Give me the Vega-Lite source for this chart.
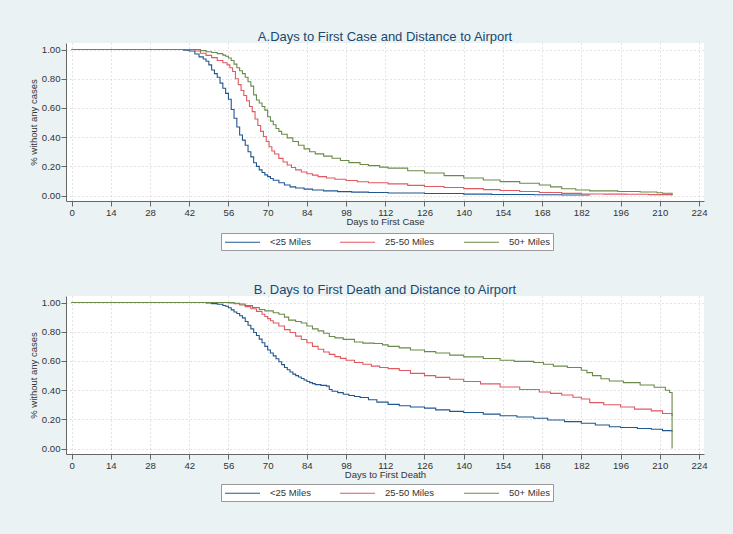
{
  "$schema": "https://vega.github.io/schema/vega-lite/v6.json",
  "background": "#eaf2f3",
  "padding": {"left": 28, "top": 30, "right": 27, "bottom": 32},
  "datasets": {
    "cases": [
      {"distance": "<25 Miles", "day": 0, "share": 1}, {"distance": "<25 Miles", "day": 38, "share": 1}, {"distance": "<25 Miles", "day": 40, "share": 0.995},
      {"distance": "<25 Miles", "day": 42, "share": 0.99}, {"distance": "<25 Miles", "day": 44, "share": 0.97}, {"distance": "<25 Miles", "day": 45.5, "share": 0.95},
      {"distance": "<25 Miles", "day": 47, "share": 0.935}, {"distance": "<25 Miles", "day": 48, "share": 0.92}, {"distance": "<25 Miles", "day": 49, "share": 0.895},
      {"distance": "<25 Miles", "day": 50, "share": 0.86}, {"distance": "<25 Miles", "day": 51, "share": 0.835}, {"distance": "<25 Miles", "day": 52, "share": 0.81},
      {"distance": "<25 Miles", "day": 53, "share": 0.77}, {"distance": "<25 Miles", "day": 54, "share": 0.735}, {"distance": "<25 Miles", "day": 55, "share": 0.7},
      {"distance": "<25 Miles", "day": 56, "share": 0.66}, {"distance": "<25 Miles", "day": 57, "share": 0.59}, {"distance": "<25 Miles", "day": 58, "share": 0.53},
      {"distance": "<25 Miles", "day": 59, "share": 0.47}, {"distance": "<25 Miles", "day": 60, "share": 0.415}, {"distance": "<25 Miles", "day": 61, "share": 0.38},
      {"distance": "<25 Miles", "day": 62, "share": 0.345}, {"distance": "<25 Miles", "day": 63, "share": 0.3}, {"distance": "<25 Miles", "day": 64, "share": 0.265},
      {"distance": "<25 Miles", "day": 65, "share": 0.225}, {"distance": "<25 Miles", "day": 66, "share": 0.2}, {"distance": "<25 Miles", "day": 67, "share": 0.176},
      {"distance": "<25 Miles", "day": 68, "share": 0.158}, {"distance": "<25 Miles", "day": 69, "share": 0.142}, {"distance": "<25 Miles", "day": 70, "share": 0.13},
      {"distance": "<25 Miles", "day": 71, "share": 0.117}, {"distance": "<25 Miles", "day": 72, "share": 0.105}, {"distance": "<25 Miles", "day": 74, "share": 0.088},
      {"distance": "<25 Miles", "day": 76, "share": 0.073}, {"distance": "<25 Miles", "day": 78, "share": 0.06}, {"distance": "<25 Miles", "day": 80, "share": 0.052},
      {"distance": "<25 Miles", "day": 83, "share": 0.044}, {"distance": "<25 Miles", "day": 86, "share": 0.038}, {"distance": "<25 Miles", "day": 90, "share": 0.032},
      {"distance": "<25 Miles", "day": 95, "share": 0.027}, {"distance": "<25 Miles", "day": 100, "share": 0.024}, {"distance": "<25 Miles", "day": 106, "share": 0.021},
      {"distance": "<25 Miles", "day": 113, "share": 0.018}, {"distance": "<25 Miles", "day": 126, "share": 0.014}, {"distance": "<25 Miles", "day": 140, "share": 0.01},
      {"distance": "<25 Miles", "day": 150, "share": 0.008}, {"distance": "<25 Miles", "day": 165, "share": 0.006}, {"distance": "<25 Miles", "day": 175, "share": 0.004},
      {"distance": "<25 Miles", "day": 185, "share": 0.002},

      {"distance": "25-50 Miles", "day": 0, "share": 1}, {"distance": "25-50 Miles", "day": 42, "share": 1}, {"distance": "25-50 Miles", "day": 44, "share": 0.99},
      {"distance": "25-50 Miles", "day": 46, "share": 0.975}, {"distance": "25-50 Miles", "day": 48, "share": 0.96}, {"distance": "25-50 Miles", "day": 50, "share": 0.945},
      {"distance": "25-50 Miles", "day": 52, "share": 0.925}, {"distance": "25-50 Miles", "day": 54, "share": 0.91}, {"distance": "25-50 Miles", "day": 55.5, "share": 0.895},
      {"distance": "25-50 Miles", "day": 56.5, "share": 0.875}, {"distance": "25-50 Miles", "day": 57.5, "share": 0.85}, {"distance": "25-50 Miles", "day": 58.5, "share": 0.8},
      {"distance": "25-50 Miles", "day": 59.5, "share": 0.76}, {"distance": "25-50 Miles", "day": 60.5, "share": 0.72}, {"distance": "25-50 Miles", "day": 61.5, "share": 0.685},
      {"distance": "25-50 Miles", "day": 62.5, "share": 0.65}, {"distance": "25-50 Miles", "day": 63.5, "share": 0.61}, {"distance": "25-50 Miles", "day": 64.5, "share": 0.575},
      {"distance": "25-50 Miles", "day": 65.5, "share": 0.525}, {"distance": "25-50 Miles", "day": 66.5, "share": 0.48}, {"distance": "25-50 Miles", "day": 67.5, "share": 0.44},
      {"distance": "25-50 Miles", "day": 68.5, "share": 0.405}, {"distance": "25-50 Miles", "day": 69.5, "share": 0.37}, {"distance": "25-50 Miles", "day": 70.5, "share": 0.335},
      {"distance": "25-50 Miles", "day": 71.5, "share": 0.305}, {"distance": "25-50 Miles", "day": 72.5, "share": 0.285}, {"distance": "25-50 Miles", "day": 74, "share": 0.255},
      {"distance": "25-50 Miles", "day": 75.5, "share": 0.23}, {"distance": "25-50 Miles", "day": 77, "share": 0.21}, {"distance": "25-50 Miles", "day": 78.5, "share": 0.192},
      {"distance": "25-50 Miles", "day": 80, "share": 0.176}, {"distance": "25-50 Miles", "day": 82, "share": 0.162}, {"distance": "25-50 Miles", "day": 84, "share": 0.15},
      {"distance": "25-50 Miles", "day": 86, "share": 0.14}, {"distance": "25-50 Miles", "day": 88, "share": 0.13}, {"distance": "25-50 Miles", "day": 91, "share": 0.12},
      {"distance": "25-50 Miles", "day": 94, "share": 0.112}, {"distance": "25-50 Miles", "day": 98, "share": 0.103}, {"distance": "25-50 Miles", "day": 102, "share": 0.095},
      {"distance": "25-50 Miles", "day": 106, "share": 0.088}, {"distance": "25-50 Miles", "day": 113, "share": 0.08}, {"distance": "25-50 Miles", "day": 120, "share": 0.07},
      {"distance": "25-50 Miles", "day": 126, "share": 0.062}, {"distance": "25-50 Miles", "day": 133, "share": 0.055}, {"distance": "25-50 Miles", "day": 140, "share": 0.048},
      {"distance": "25-50 Miles", "day": 147, "share": 0.041}, {"distance": "25-50 Miles", "day": 153, "share": 0.035}, {"distance": "25-50 Miles", "day": 160, "share": 0.028},
      {"distance": "25-50 Miles", "day": 167, "share": 0.021}, {"distance": "25-50 Miles", "day": 175, "share": 0.015}, {"distance": "25-50 Miles", "day": 182, "share": 0.011},
      {"distance": "25-50 Miles", "day": 190, "share": 0.01}, {"distance": "25-50 Miles", "day": 198, "share": 0.009}, {"distance": "25-50 Miles", "day": 206, "share": 0.007},
      {"distance": "25-50 Miles", "day": 214.4, "share": 0.005},

      {"distance": "50+ Miles", "day": 0, "share": 1}, {"distance": "50+ Miles", "day": 44, "share": 1}, {"distance": "50+ Miles", "day": 46, "share": 0.993},
      {"distance": "50+ Miles", "day": 48, "share": 0.985}, {"distance": "50+ Miles", "day": 50, "share": 0.98}, {"distance": "50+ Miles", "day": 52, "share": 0.972},
      {"distance": "50+ Miles", "day": 54, "share": 0.962}, {"distance": "50+ Miles", "day": 55, "share": 0.954}, {"distance": "50+ Miles", "day": 56, "share": 0.942},
      {"distance": "50+ Miles", "day": 57, "share": 0.925}, {"distance": "50+ Miles", "day": 58, "share": 0.9}, {"distance": "50+ Miles", "day": 59, "share": 0.875},
      {"distance": "50+ Miles", "day": 60, "share": 0.855}, {"distance": "50+ Miles", "day": 61, "share": 0.835}, {"distance": "50+ Miles", "day": 62, "share": 0.81},
      {"distance": "50+ Miles", "day": 63, "share": 0.78}, {"distance": "50+ Miles", "day": 64, "share": 0.75}, {"distance": "50+ Miles", "day": 65, "share": 0.69},
      {"distance": "50+ Miles", "day": 66, "share": 0.655}, {"distance": "50+ Miles", "day": 67, "share": 0.634}, {"distance": "50+ Miles", "day": 68, "share": 0.61},
      {"distance": "50+ Miles", "day": 69, "share": 0.585}, {"distance": "50+ Miles", "day": 70, "share": 0.54}, {"distance": "50+ Miles", "day": 71, "share": 0.51},
      {"distance": "50+ Miles", "day": 72, "share": 0.485}, {"distance": "50+ Miles", "day": 73, "share": 0.46}, {"distance": "50+ Miles", "day": 74, "share": 0.44},
      {"distance": "50+ Miles", "day": 75, "share": 0.42}, {"distance": "50+ Miles", "day": 77, "share": 0.395}, {"distance": "50+ Miles", "day": 79, "share": 0.37},
      {"distance": "50+ Miles", "day": 81, "share": 0.345}, {"distance": "50+ Miles", "day": 83, "share": 0.32}, {"distance": "50+ Miles", "day": 85, "share": 0.3},
      {"distance": "50+ Miles", "day": 87, "share": 0.286}, {"distance": "50+ Miles", "day": 90, "share": 0.27}, {"distance": "50+ Miles", "day": 93, "share": 0.256},
      {"distance": "50+ Miles", "day": 96, "share": 0.24}, {"distance": "50+ Miles", "day": 99, "share": 0.226}, {"distance": "50+ Miles", "day": 103, "share": 0.213},
      {"distance": "50+ Miles", "day": 106, "share": 0.205}, {"distance": "50+ Miles", "day": 110, "share": 0.195}, {"distance": "50+ Miles", "day": 113, "share": 0.188},
      {"distance": "50+ Miles", "day": 120, "share": 0.17}, {"distance": "50+ Miles", "day": 126, "share": 0.155}, {"distance": "50+ Miles", "day": 133, "share": 0.137},
      {"distance": "50+ Miles", "day": 140, "share": 0.12}, {"distance": "50+ Miles", "day": 147, "share": 0.107}, {"distance": "50+ Miles", "day": 153, "share": 0.096},
      {"distance": "50+ Miles", "day": 160, "share": 0.085}, {"distance": "50+ Miles", "day": 167, "share": 0.073}, {"distance": "50+ Miles", "day": 171, "share": 0.06},
      {"distance": "50+ Miles", "day": 175, "share": 0.047}, {"distance": "50+ Miles", "day": 180, "share": 0.038}, {"distance": "50+ Miles", "day": 185, "share": 0.032},
      {"distance": "50+ Miles", "day": 195, "share": 0.028}, {"distance": "50+ Miles", "day": 203, "share": 0.025}, {"distance": "50+ Miles", "day": 209, "share": 0.02},
      {"distance": "50+ Miles", "day": 211, "share": 0.016}, {"distance": "50+ Miles", "day": 214.4, "share": 0}
    ],
    "deaths": [
      {"distance": "<25 Miles", "day": 0, "share": 1}, {"distance": "<25 Miles", "day": 46, "share": 1}, {"distance": "<25 Miles", "day": 48, "share": 0.997},
      {"distance": "<25 Miles", "day": 50, "share": 0.993}, {"distance": "<25 Miles", "day": 52, "share": 0.988}, {"distance": "<25 Miles", "day": 54, "share": 0.98},
      {"distance": "<25 Miles", "day": 55, "share": 0.975}, {"distance": "<25 Miles", "day": 56, "share": 0.965}, {"distance": "<25 Miles", "day": 57, "share": 0.95},
      {"distance": "<25 Miles", "day": 58, "share": 0.935}, {"distance": "<25 Miles", "day": 59, "share": 0.925}, {"distance": "<25 Miles", "day": 60, "share": 0.91},
      {"distance": "<25 Miles", "day": 61, "share": 0.895}, {"distance": "<25 Miles", "day": 62, "share": 0.87}, {"distance": "<25 Miles", "day": 63, "share": 0.845},
      {"distance": "<25 Miles", "day": 64, "share": 0.82}, {"distance": "<25 Miles", "day": 65, "share": 0.795}, {"distance": "<25 Miles", "day": 66, "share": 0.775},
      {"distance": "<25 Miles", "day": 67, "share": 0.75}, {"distance": "<25 Miles", "day": 68, "share": 0.725}, {"distance": "<25 Miles", "day": 69, "share": 0.7},
      {"distance": "<25 Miles", "day": 70, "share": 0.675}, {"distance": "<25 Miles", "day": 71, "share": 0.655}, {"distance": "<25 Miles", "day": 72, "share": 0.635},
      {"distance": "<25 Miles", "day": 73, "share": 0.615}, {"distance": "<25 Miles", "day": 74, "share": 0.595}, {"distance": "<25 Miles", "day": 75, "share": 0.575},
      {"distance": "<25 Miles", "day": 76, "share": 0.555}, {"distance": "<25 Miles", "day": 77, "share": 0.54}, {"distance": "<25 Miles", "day": 78, "share": 0.525},
      {"distance": "<25 Miles", "day": 79, "share": 0.51}, {"distance": "<25 Miles", "day": 80, "share": 0.5}, {"distance": "<25 Miles", "day": 81, "share": 0.49},
      {"distance": "<25 Miles", "day": 82, "share": 0.48}, {"distance": "<25 Miles", "day": 83, "share": 0.47}, {"distance": "<25 Miles", "day": 84, "share": 0.46},
      {"distance": "<25 Miles", "day": 85, "share": 0.452}, {"distance": "<25 Miles", "day": 86, "share": 0.445}, {"distance": "<25 Miles", "day": 87, "share": 0.438},
      {"distance": "<25 Miles", "day": 89, "share": 0.433}, {"distance": "<25 Miles", "day": 91, "share": 0.428}, {"distance": "<25 Miles", "day": 92, "share": 0.405},
      {"distance": "<25 Miles", "day": 93, "share": 0.393}, {"distance": "<25 Miles", "day": 95, "share": 0.383}, {"distance": "<25 Miles", "day": 97, "share": 0.372},
      {"distance": "<25 Miles", "day": 99, "share": 0.364}, {"distance": "<25 Miles", "day": 101, "share": 0.357}, {"distance": "<25 Miles", "day": 103, "share": 0.35},
      {"distance": "<25 Miles", "day": 106, "share": 0.335}, {"distance": "<25 Miles", "day": 109, "share": 0.318}, {"distance": "<25 Miles", "day": 113, "share": 0.303},
      {"distance": "<25 Miles", "day": 117, "share": 0.293}, {"distance": "<25 Miles", "day": 121, "share": 0.285}, {"distance": "<25 Miles", "day": 126, "share": 0.277},
      {"distance": "<25 Miles", "day": 130, "share": 0.265}, {"distance": "<25 Miles", "day": 135, "share": 0.255}, {"distance": "<25 Miles", "day": 140, "share": 0.247},
      {"distance": "<25 Miles", "day": 147, "share": 0.236}, {"distance": "<25 Miles", "day": 153, "share": 0.225}, {"distance": "<25 Miles", "day": 159, "share": 0.216},
      {"distance": "<25 Miles", "day": 165, "share": 0.208}, {"distance": "<25 Miles", "day": 170, "share": 0.196}, {"distance": "<25 Miles", "day": 176, "share": 0.185},
      {"distance": "<25 Miles", "day": 182, "share": 0.174}, {"distance": "<25 Miles", "day": 187, "share": 0.162}, {"distance": "<25 Miles", "day": 192, "share": 0.15},
      {"distance": "<25 Miles", "day": 196, "share": 0.144}, {"distance": "<25 Miles", "day": 202, "share": 0.138}, {"distance": "<25 Miles", "day": 207, "share": 0.132},
      {"distance": "<25 Miles", "day": 211, "share": 0.123}, {"distance": "<25 Miles", "day": 214.4, "share": 0.116},

      {"distance": "25-50 Miles", "day": 0, "share": 1}, {"distance": "25-50 Miles", "day": 54, "share": 1}, {"distance": "25-50 Miles", "day": 56, "share": 0.997},
      {"distance": "25-50 Miles", "day": 58, "share": 0.992}, {"distance": "25-50 Miles", "day": 60, "share": 0.983}, {"distance": "25-50 Miles", "day": 62, "share": 0.972},
      {"distance": "25-50 Miles", "day": 64, "share": 0.958}, {"distance": "25-50 Miles", "day": 66, "share": 0.94}, {"distance": "25-50 Miles", "day": 68, "share": 0.92},
      {"distance": "25-50 Miles", "day": 69, "share": 0.905}, {"distance": "25-50 Miles", "day": 70, "share": 0.89}, {"distance": "25-50 Miles", "day": 71, "share": 0.875},
      {"distance": "25-50 Miles", "day": 72, "share": 0.86}, {"distance": "25-50 Miles", "day": 74, "share": 0.84}, {"distance": "25-50 Miles", "day": 76, "share": 0.815},
      {"distance": "25-50 Miles", "day": 78, "share": 0.795}, {"distance": "25-50 Miles", "day": 80, "share": 0.77}, {"distance": "25-50 Miles", "day": 82, "share": 0.747},
      {"distance": "25-50 Miles", "day": 84, "share": 0.725}, {"distance": "25-50 Miles", "day": 86, "share": 0.7}, {"distance": "25-50 Miles", "day": 88, "share": 0.68},
      {"distance": "25-50 Miles", "day": 90, "share": 0.662}, {"distance": "25-50 Miles", "day": 92, "share": 0.645}, {"distance": "25-50 Miles", "day": 94, "share": 0.63},
      {"distance": "25-50 Miles", "day": 96, "share": 0.618}, {"distance": "25-50 Miles", "day": 98, "share": 0.605}, {"distance": "25-50 Miles", "day": 101, "share": 0.59},
      {"distance": "25-50 Miles", "day": 104, "share": 0.578}, {"distance": "25-50 Miles", "day": 107, "share": 0.565}, {"distance": "25-50 Miles", "day": 110, "share": 0.555},
      {"distance": "25-50 Miles", "day": 113, "share": 0.548}, {"distance": "25-50 Miles", "day": 117, "share": 0.535}, {"distance": "25-50 Miles", "day": 121, "share": 0.515},
      {"distance": "25-50 Miles", "day": 126, "share": 0.5}, {"distance": "25-50 Miles", "day": 130, "share": 0.488}, {"distance": "25-50 Miles", "day": 135, "share": 0.475},
      {"distance": "25-50 Miles", "day": 140, "share": 0.46}, {"distance": "25-50 Miles", "day": 146, "share": 0.443}, {"distance": "25-50 Miles", "day": 153, "share": 0.422},
      {"distance": "25-50 Miles", "day": 160, "share": 0.405}, {"distance": "25-50 Miles", "day": 167, "share": 0.388}, {"distance": "25-50 Miles", "day": 171, "share": 0.378},
      {"distance": "25-50 Miles", "day": 175, "share": 0.367}, {"distance": "25-50 Miles", "day": 179, "share": 0.352}, {"distance": "25-50 Miles", "day": 182, "share": 0.34},
      {"distance": "25-50 Miles", "day": 185, "share": 0.315}, {"distance": "25-50 Miles", "day": 190, "share": 0.3}, {"distance": "25-50 Miles", "day": 196, "share": 0.285},
      {"distance": "25-50 Miles", "day": 201, "share": 0.27}, {"distance": "25-50 Miles", "day": 207, "share": 0.258}, {"distance": "25-50 Miles", "day": 211, "share": 0.24},
      {"distance": "25-50 Miles", "day": 214.4, "share": 0.224},

      {"distance": "50+ Miles", "day": 0, "share": 1}, {"distance": "50+ Miles", "day": 55, "share": 1}, {"distance": "50+ Miles", "day": 58, "share": 0.995},
      {"distance": "50+ Miles", "day": 60, "share": 0.99}, {"distance": "50+ Miles", "day": 62, "share": 0.98}, {"distance": "50+ Miles", "day": 64.6, "share": 0.966},
      {"distance": "50+ Miles", "day": 67, "share": 0.953}, {"distance": "50+ Miles", "day": 69, "share": 0.943}, {"distance": "50+ Miles", "day": 72, "share": 0.93},
      {"distance": "50+ Miles", "day": 74, "share": 0.92}, {"distance": "50+ Miles", "day": 76, "share": 0.9}, {"distance": "50+ Miles", "day": 77.5, "share": 0.88},
      {"distance": "50+ Miles", "day": 80, "share": 0.87}, {"distance": "50+ Miles", "day": 82, "share": 0.86}, {"distance": "50+ Miles", "day": 84, "share": 0.84},
      {"distance": "50+ Miles", "day": 86, "share": 0.82}, {"distance": "50+ Miles", "day": 88, "share": 0.806}, {"distance": "50+ Miles", "day": 90, "share": 0.79},
      {"distance": "50+ Miles", "day": 92, "share": 0.768}, {"distance": "50+ Miles", "day": 94, "share": 0.758}, {"distance": "50+ Miles", "day": 97, "share": 0.748},
      {"distance": "50+ Miles", "day": 101, "share": 0.73}, {"distance": "50+ Miles", "day": 104, "share": 0.722}, {"distance": "50+ Miles", "day": 108, "share": 0.72},
      {"distance": "50+ Miles", "day": 111, "share": 0.71}, {"distance": "50+ Miles", "day": 113, "share": 0.7}, {"distance": "50+ Miles", "day": 117, "share": 0.69},
      {"distance": "50+ Miles", "day": 121, "share": 0.675}, {"distance": "50+ Miles", "day": 126, "share": 0.664}, {"distance": "50+ Miles", "day": 130, "share": 0.655},
      {"distance": "50+ Miles", "day": 135, "share": 0.64}, {"distance": "50+ Miles", "day": 140, "share": 0.628}, {"distance": "50+ Miles", "day": 147, "share": 0.617},
      {"distance": "50+ Miles", "day": 153, "share": 0.605}, {"distance": "50+ Miles", "day": 158, "share": 0.597}, {"distance": "50+ Miles", "day": 165, "share": 0.59},
      {"distance": "50+ Miles", "day": 168.5, "share": 0.578}, {"distance": "50+ Miles", "day": 172, "share": 0.565}, {"distance": "50+ Miles", "day": 177, "share": 0.555},
      {"distance": "50+ Miles", "day": 182, "share": 0.537}, {"distance": "50+ Miles", "day": 184, "share": 0.52}, {"distance": "50+ Miles", "day": 186, "share": 0.5},
      {"distance": "50+ Miles", "day": 189, "share": 0.478}, {"distance": "50+ Miles", "day": 192, "share": 0.463}, {"distance": "50+ Miles", "day": 197, "share": 0.452},
      {"distance": "50+ Miles", "day": 203, "share": 0.436}, {"distance": "50+ Miles", "day": 208, "share": 0.42}, {"distance": "50+ Miles", "day": 212, "share": 0.4},
      {"distance": "50+ Miles", "day": 213.5, "share": 0.384}, {"distance": "50+ Miles", "day": 214.4, "share": 0}
    ]
  },
  "spacing": 32,
  "vconcat": [
    {
      "title": "A.Days to First Case and Distance to Airport",
      "width": 638,
      "height": 158,
      "data": {"name": "cases"},
      "mark": {"type": "line", "interpolate": "step-after", "strokeWidth": 1.1},
      "encoding": {
        "x": {
          "field": "day", "type": "quantitative",
          "scale": {"domain": [-2, 225.8], "nice": false, "zero": false},
          "axis": {"title": "Days to First Case", "values": [0, 14, 28, 42, 56, 70, 84, 98, 112, 126, 140, 154, 168, 182, 196, 210, 224], "format": "d"}
        },
        "y": {
          "field": "share", "type": "quantitative",
          "scale": {"domain": [-0.037, 1.045], "nice": false, "zero": false},
          "axis": {"title": "% without any cases", "values": [0, 0.2, 0.4, 0.6, 0.8, 1], "format": ".2f"}
        },
        "color": {
          "field": "distance", "type": "nominal",
          "scale": {"domain": ["<25 Miles", "25-50 Miles", "50+ Miles"], "range": ["#21578f", "#e05a62", "#6b8b4a"]},
          "legend": {"orient": "none", "legendX": 155, "legendY": 190, "direction": "horizontal", "columns": 3, "title": null}
        }
      }
    },
    {
      "title": "B. Days to First Death and Distance to Airport",
      "width": 638,
      "height": 158,
      "data": {"name": "deaths"},
      "mark": {"type": "line", "interpolate": "step-after", "strokeWidth": 1.1},
      "encoding": {
        "x": {
          "field": "day", "type": "quantitative",
          "scale": {"domain": [-2, 225.8], "nice": false, "zero": false},
          "axis": {"title": "Days to First Death", "values": [0, 14, 28, 42, 56, 70, 84, 98, 112, 126, 140, 154, 168, 182, 196, 210, 224], "format": "d"}
        },
        "y": {
          "field": "share", "type": "quantitative",
          "scale": {"domain": [-0.037, 1.045], "nice": false, "zero": false},
          "axis": {"title": "% without any cases", "values": [0, 0.2, 0.4, 0.6, 0.8, 1], "format": ".2f"}
        },
        "color": {
          "field": "distance", "type": "nominal",
          "scale": {"domain": ["<25 Miles", "25-50 Miles", "50+ Miles"], "range": ["#21578f", "#e05a62", "#6b8b4a"]},
          "legend": {"orient": "none", "legendX": 155, "legendY": 188, "direction": "horizontal", "columns": 3, "title": null}
        }
      }
    }
  ],
  "resolve": {"scale": {"color": "independent"}, "legend": {"color": "independent"}},
  "config": {
    "font": "Liberation Sans",
    "view": {"fill": "white", "stroke": null},
    "title": {"font": "Liberation Sans", "fontSize": 13, "fontWeight": "normal", "color": "#1a476f", "offset": -0.5},
    "axis": {
      "labelFont": "Liberation Sans",
      "titleFont": "Liberation Sans",
      "labelFontSize": 9.6,
      "titleFontSize": 9.5,
      "titleFontWeight": "normal",
      "labelColor": "#333333",
      "titleColor": "#333333",
      "domainColor": "#666666",
      "tickColor": "#666666",
      "tickSize": 5,
      "labelPadding": 1,
      "grid": true,
      "gridColor": "#c8c8c8",
      "gridDash": [1, 3],
      "gridWidth": 1
    },
    "axisX": {"titlePadding": 0, "labelFlush": false},
    "axisY": {"titlePadding": 3, "labelAngle": 0},
    "legend": {
      "labelFont": "Liberation Sans",
      "labelFontSize": 9.5,
      "labelColor": "#333333",
      "symbolType": "M-1,0H6",
      "symbolSize": 100,
      "symbolStrokeWidth": 1.2,
      "labelOffset": 34,
      "columnPadding": 26,
      "padding": 3,
      "fillColor": "white",
      "strokeColor": "#999999"
    }
  }
}
